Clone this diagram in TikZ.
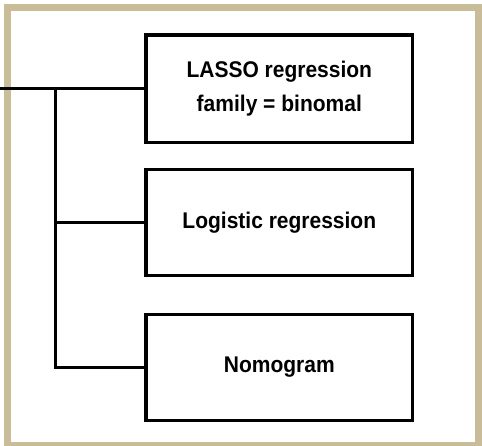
\documentclass[tikz,border=0pt]{standalone}
\usepackage{fontspec}
\setmainfont{Liberation Sans}
\usepackage{tikz}
\usetikzlibrary{calc, positioning}
\definecolor{frametan}{RGB}{201,188,153}
\newcommand\boxline[1]{\scalebox{1}[1.08]{#1}}
\tikzset{modelbox/.style={draw=black, line width=3.3pt, minimum width=266.5pt, minimum height=106pt, inner sep=0pt, align=center, font=\fontsize{21}{34}\selectfont\bfseries}}
\tikzset{wire/.style={draw=black, line width=3pt}}

\begin{document}
\begin{tikzpicture}[x=1pt, y=-1pt]
	\useasboundingbox (0,0) rectangle (482,445);
	\clip (0,0) rectangle (482,445);
	\draw[frametan, line width=7.6pt] (7.5,7.5) rectangle (478.8,446.1);
	
	\node[modelbox, minimum height=107.5pt] (lasso) at (279.3,88.8) {\boxline{LASSO regression}\\\boxline{family = binomal}};
	\node[modelbox] (logit) at (279.3,222.2) {\boxline{Logistic regression}};
	\node[modelbox] (nomo) at (279.3,367.5) {\boxline{Nomogram}};
	
	\coordinate (edge) at (0,0);
	\coordinate (trunkx) at (55.5,0);
	\coordinate (in) at (lasso.west -| edge);
	\coordinate (split) at (lasso.west -| trunkx);
	
	\draw[wire] (in) -- (lasso.west);
	\draw[wire] (split) |- (logit.west);
	\draw[wire] (split) |- (nomo.west);
\end{tikzpicture}
\end{document}
